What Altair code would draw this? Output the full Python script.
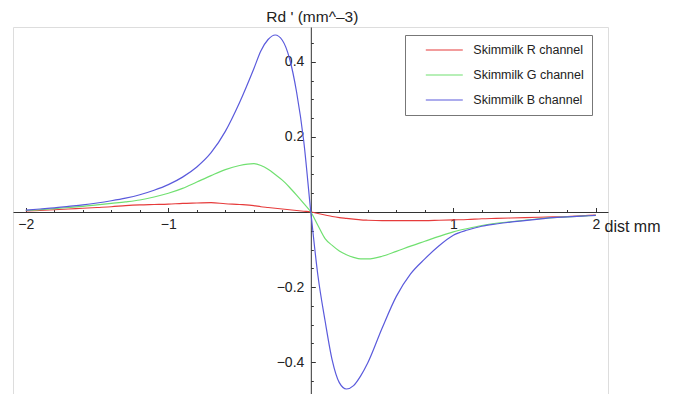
import altair as alt
import pandas as pd

# ---- data ----
x_vals = [-2.0, -1.9, -1.8, -1.7, -1.6, -1.5, -1.4, -1.3, -1.2, -1.1, -1.0, -0.9, -0.8, -0.7, -0.6, -0.5, -0.4,
          -0.35, -0.3, -0.25, -0.2, -0.15, -0.1, -0.05,
          0.0,
          0.05, 0.1, 0.15, 0.2, 0.25, 0.3, 0.35, 0.4,
          0.5, 0.6, 0.7, 0.8, 0.9, 1.0, 1.1, 1.2, 1.3, 1.4, 1.5, 1.6, 1.7, 1.8, 1.9, 2.0]

blue = [0.005, 0.008, 0.011, 0.015, 0.019, 0.024, 0.030, 0.037, 0.046, 0.058, 0.073, 0.093, 0.120, 0.158, 0.215, 0.292, 0.382,
        0.43, 0.460, 0.472, 0.458, 0.41, 0.32, 0.19,
        0.0,
        -0.17, -0.29, -0.395, -0.455, -0.472, -0.463, -0.437, -0.402,
        -0.31, -0.225, -0.165, -0.125, -0.09, -0.062, -0.048, -0.038, -0.032, -0.027, -0.023, -0.019, -0.015, -0.013, -0.011, -0.009]

green = [0.004, 0.006, 0.009, 0.012, 0.015, 0.019, 0.023, 0.027, 0.032, 0.040, 0.050, 0.063, 0.080, 0.097, 0.113, 0.124, 0.129,
         0.124, 0.114, 0.100, 0.085, 0.066, 0.045, 0.023,
         0.0,
         -0.036, -0.071, -0.089, -0.104, -0.114, -0.121, -0.125, -0.125,
         -0.118, -0.105, -0.091, -0.078, -0.065, -0.053, -0.044, -0.036, -0.030, -0.026, -0.022, -0.018, -0.015, -0.013, -0.011, -0.009]

red = [0.003, 0.004, 0.006, 0.008, 0.010, 0.012, 0.014, 0.017, 0.019, 0.020, 0.021, 0.023, 0.024, 0.025, 0.022, 0.020, 0.017,
       0.014, 0.012, 0.010, 0.008, 0.006, 0.004, 0.002,
       0.0,
       -0.004, -0.008, -0.012, -0.015, -0.017, -0.019, -0.021, -0.022,
       -0.023, -0.023, -0.023, -0.023, -0.022, -0.021, -0.020, -0.018, -0.017, -0.016, -0.015, -0.014, -0.013, -0.012, -0.010, -0.008]

series_names = ["Skimmilk R channel", "Skimmilk G channel", "Skimmilk B channel"]
series_colors = ["#e63b3b", "#70e070", "#5a5adc"]

x_major = [-2, -1, 1, 2]
x_minor = [-1.8, -1.6, -1.4, -1.2, -0.8, -0.6, -0.4, -0.2, 0.2, 0.4, 0.6, 0.8, 1.2, 1.4, 1.6, 1.8]
y_major = [-0.4, -0.2, 0.2, 0.4]
y_minor = [-0.45, -0.35, -0.3, -0.25, -0.15, -0.1, -0.05, 0.05, 0.1, 0.15, 0.25, 0.3, 0.35, 0.45]

rows = []
for name, vals in zip(series_names, [red, green, blue]):
    for xv, yv in zip(x_vals, vals):
        rows.append({"x": xv, "y": yv, "series": name})
df = pd.DataFrame(rows)

W, H = 595, 367
x_dom = [-2.09, 2.0855]
y_dom = [-0.4853, 0.4933]
x0_px = (0 - x_dom[0]) / (x_dom[1] - x_dom[0]) * W
y0_px = (y_dom[1] - 0) / (y_dom[1] - y_dom[0]) * H

xs = alt.Scale(domain=x_dom, nice=False, zero=False)
ys = alt.Scale(domain=y_dom, nice=False, zero=False)

AX = "#333333"
FONT = "Liberation Sans"

base = alt.Chart(df)

lines = base.mark_line(strokeWidth=1.2, interpolate="monotone").encode(
    x=alt.X("x:Q", scale=xs, axis=alt.Axis(
        orient="bottom", offset=-(H - y0_px), values=x_major, format="d",
        ticks=False, tickSize=0, grid=False, domain=True, domainColor=AX, domainWidth=1,
        labelFontSize=14, labelPadding=5, labelColor="#222", labelFont=FONT,
        title="dist mm", titleAngle=0, titleX=591, titleY=19, titleAlign="left",
        titleBaseline="alphabetic", titleFontWeight="normal", titleFontSize=16,
        titleColor="#222", titleFont=FONT)),
    y=alt.Y("y:Q", scale=ys, axis=alt.Axis(
        orient="left", offset=-x0_px, values=y_major, format=".1f",
        ticks=False, tickSize=0, grid=False, domain=True, domainColor=AX, domainWidth=1,
        labelFontSize=14, labelPadding=7, labelColor="#222", labelFont=FONT,
        title="Rd ' (mm^–3)", titleAngle=0, titleX=1, titleY=-6, titleAlign="center",
        titleBaseline="alphabetic", titleFontWeight="normal", titleFontSize=15.5,
        titleColor="#222", titleFont=FONT)),
    color=alt.Color("series:N", scale=alt.Scale(domain=series_names, range=series_colors),
                    legend=alt.Legend(
                        orient="none", legendX=392, legendY=8, title=None,
                        symbolType="M-3,0H3", symbolSize=152, symbolStrokeWidth=1.2,
                        symbolOffset=24.3, labelOffset=22, labelFontSize=12.5,
                        labelFont=FONT, labelColor="#222", padding=8, rowPadding=11,
                        strokeColor="#777777", fillColor="white")),
)

major_ticks = base.mark_line(opacity=0).encode(
    x=alt.X("x:Q", scale=xs, axis=alt.Axis(
        orient="top", offset=-y0_px, values=x_major, labels=False, domain=False,
        grid=False, ticks=True, tickSize=4.5, tickColor=AX, title=None)),
    y=alt.Y("y:Q", scale=ys, axis=alt.Axis(
        orient="right", offset=-(W - x0_px), values=y_major, labels=False, domain=False,
        grid=False, ticks=True, tickSize=4.5, tickColor=AX, title=None)),
    detail="series:N",
)

minor_ticks = base.mark_line(opacity=0).encode(
    x=alt.X("x:Q", scale=xs, axis=alt.Axis(
        orient="top", offset=-y0_px, values=x_minor, labels=False, domain=False,
        grid=False, ticks=True, tickSize=2.5, tickColor=AX, title=None)),
    y=alt.Y("y:Q", scale=ys, axis=alt.Axis(
        orient="right", offset=-(W - x0_px), values=y_minor, labels=False, domain=False,
        grid=False, ticks=True, tickSize=2.5, tickColor=AX, title=None)),
    detail="series:N",
)

chart = (
    alt.layer(lines, major_ticks, minor_ticks)
    .resolve_axis(x="independent", y="independent")
    .properties(width=W, height=H, autosize=alt.AutoSizeParams(type="none"),
                padding={"left": 5, "top": 19, "right": 67, "bottom": 0})
    .configure_view(stroke=None)
    .configure(font=FONT, background="white")
)

chart.save("out.html", embed_options={"renderer": "svg", "actions": False})
